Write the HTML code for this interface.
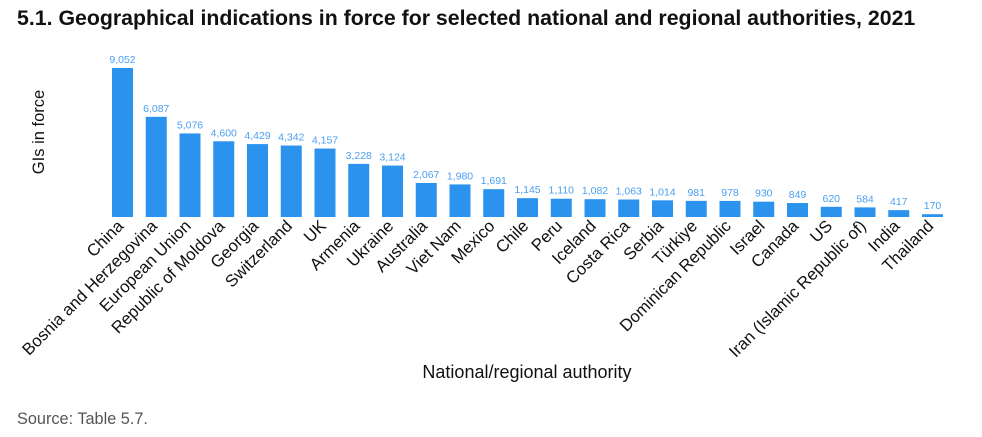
<!DOCTYPE html>
<html><head><meta charset="utf-8"><style>
body{margin:0;background:#fff;}
svg{display:block;font-family:"Liberation Sans",sans-serif;}
</style></head><body>
<svg width="982" height="437" xmlns="http://www.w3.org/2000/svg">
<text x="17" y="25" font-size="21.3" font-weight="bold" fill="#111">5.1. Geographical indications in force for selected national and regional authorities, 2021</text>
<text transform="translate(44,132) rotate(-90)" text-anchor="middle" font-size="16.5" fill="#111">GIs in force</text>
<text x="527" y="378" text-anchor="middle" font-size="18" fill="#111">National/regional authority</text>
<text x="17" y="424" font-size="16.3" fill="#555">Source: Table 5.7.</text>
<g id="bars"></g>
</svg>
<script>
const d=[["China",9052],["Bosnia and Herzegovina",6087],["European Union",5076],["Republic of Moldova",4600],["Georgia",4429],["Switzerland",4342],["UK",4157],["Armenia",3228],["Ukraine",3124],["Australia",2067],["Viet Nam",1980],["Mexico",1691],["Chile",1145],["Peru",1110],["Iceland",1082],["Costa Rica",1063],["Serbia",1014],["Türkiye",981],["Dominican Republic",978],["Israel",930],["Canada",849],["US",620],["Iran (Islamic Republic of)",584],["India",417],["Thailand",170]];
let s="";const base=217,k=149/9052;
d.forEach((e,i)=>{const x=112+i*33.75,h=e[1]*k,cx=x+10.5;
s+=`<rect x="${x}" y="${base-h}" width="21" height="${h}" fill="#2b93ee"/>`;
s+=`<text x="${cx}" y="${base-h-5}" text-anchor="middle" font-size="10.5" fill="#4a9ff0">${e[1].toLocaleString("en-US")}</text>`;
s+=`<text transform="translate(${cx+2},${base+10}) rotate(-45)" text-anchor="end" font-size="16.8" fill="#111">${e[0]}</text>`;});
document.getElementById("bars").innerHTML=s;
</script>
</body></html>
